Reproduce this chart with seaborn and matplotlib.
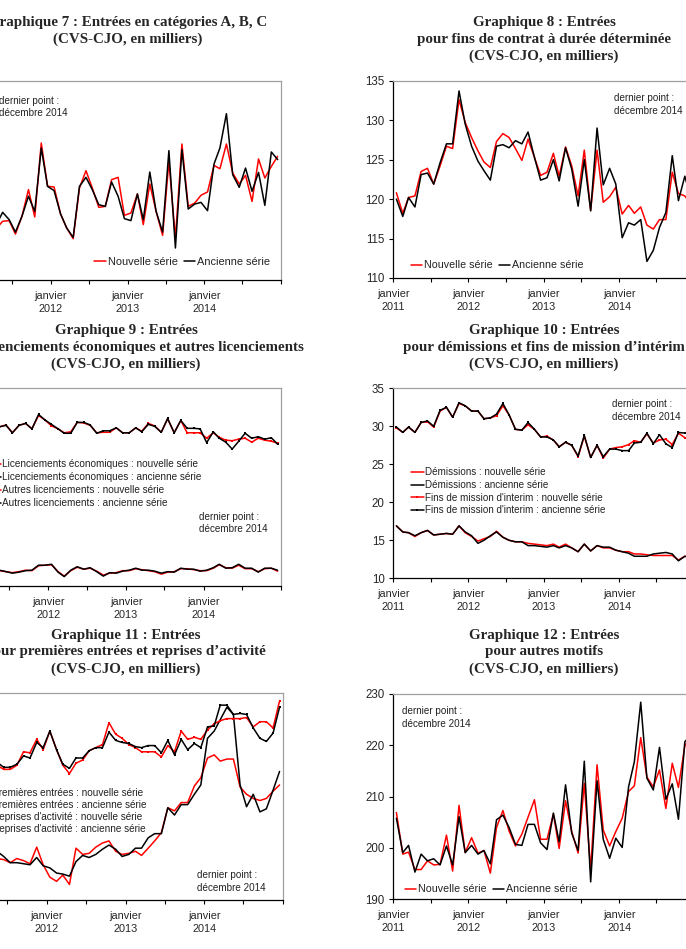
import pandas as pd
import matplotlib.pyplot as plt
import matplotlib.dates as mdates
import numpy as np
import seaborn as sns

# page size in pixels (figure drawn at 100 dpi)
W, H = 686, 949

# months jan 2011 - dec 2014, points drawn mid-month (between tick marks)
months = pd.date_range("2011-01-01", periods=48, freq="MS")
mid_month = months + pd.Timedelta(days=15)

# Graphique 7 : categories A, B, C
abc_new = [485, 478, 474, 471.0, 475.4, 475.8, 467.7, 478.4, 494.5, 478.0,
           522.6, 496.5, 496.1, 479.8, 471.4, 464.9, 495.5, 505.9, 495.5, 483.8,
           484.4, 500.5, 501.9, 479.0, 480.4, 491.9, 473.4, 497.9, 481.4, 466.9,
           511.6, 465.3, 522.0, 484.4, 486.4, 491.1, 493.1, 509.1, 507.1, 522.0,
           504.5, 497.9, 503.1, 487.4, 513.0, 501.5, 508.5, 514.6]
abc_old = [484, 477, 476, 473.4, 480.8, 476.4, 468.9, 478.4, 490.5, 481.4,
           519.6, 496.5, 493.9, 479.8, 471.4, 465.7, 496.5, 501.9, 494.5, 485.4,
           484.4, 499.1, 490.5, 477.0, 475.8, 491.9, 476.4, 505.1, 481.4, 468.9,
           518.0, 459.3, 518.6, 482.8, 485.8, 486.8, 481.8, 510.0, 519.6, 540.3,
           503.5, 495.9, 507.5, 493.5, 504.9, 485.0, 517.2, 512.6]

# Graphique 8 : fins de CDD
cdd_new = [120.8, 118.2, 120.2, 120.4, 123.5, 123.9, 121.9, 124.2, 126.7, 126.4,
           132.6, 129.7, 127.8, 126.1, 124.7, 124.0, 127.3, 128.3, 127.8, 126.4,
           124.9, 127.6, 125.3, 123.0, 123.4, 125.8, 122.9, 126.6, 124.2, 120.4,
           126.2, 118.6, 126.2, 119.6, 120.3, 121.5, 118.1, 119.2, 118.2, 119.0,
           116.7, 116.2, 117.4, 117.4, 123.4, 120.7, 120.4, 119.3]
cdd_old = [120.0, 117.8, 120.2, 119.0, 123.1, 123.3, 121.9, 124.6, 127.0, 127.0,
           133.7, 129.5, 126.7, 124.8, 123.6, 122.4, 126.7, 126.9, 126.5, 127.4,
           127.0, 128.5, 125.3, 122.4, 122.7, 125.0, 122.3, 126.5, 123.8, 119.1,
           125.0, 118.5, 129.0, 121.8, 123.9, 121.9, 115.1, 117.0, 116.7, 117.4,
           112.1, 113.5, 116.4, 118.3, 125.5, 119.8, 122.9, 120.0]

# Graphique 9 : licenciements
eco_new = [13.7, 13.5, 13.3, 13.2, 13.1, 12.9, 12.7, 12.9, 13.2, 13.1,
           14.1, 14.2, 14.3, 12.9, 12.0, 13.1, 13.8, 13.4, 13.6, 13.0,
           12.2, 12.6, 12.7, 13.1, 13.1, 13.5, 13.3, 13.1, 12.9, 12.4,
           12.8, 12.9, 13.5, 13.5, 13.3, 13.1, 13.1, 13.6, 14.3, 13.7,
           13.6, 14.2, 13.5, 13.5, 12.9, 13.5, 13.6, 13.0]
eco_old = [13.8, 13.5, 13.4, 13.3, 13.2, 12.9, 12.6, 12.8, 13.1, 13.2,
           14.2, 14.2, 14.4, 12.8, 11.9, 13.2, 13.9, 13.4, 13.7, 12.9,
           12.0, 12.7, 12.6, 13.0, 13.2, 13.6, 13.2, 13.2, 13.0, 12.6,
           12.9, 12.8, 13.6, 13.4, 13.4, 13.0, 13.2, 13.7, 14.4, 13.6,
           13.7, 14.4, 13.6, 13.6, 12.8, 13.6, 13.6, 13.2]
autres_new = [41.4, 42.2, 41.9, 42.5, 42.2, 42.6, 41.0, 42.5, 42.9, 41.8,
              44.5, 43.6, 42.4, 41.8, 41.0, 41.2, 43.1, 43.0, 42.5, 41.0,
              41.1, 41.1, 42.0, 41.0, 41.0, 42.0, 41.3, 42.9, 42.4, 41.1,
              43.8, 41.0, 43.5, 41.0, 41.0, 41.0, 39.9, 41.0, 40.1, 39.5,
              39.4, 39.7, 39.9, 39.1, 39.9, 39.5, 39.3, 38.9]
autres_old = [41.5, 42.3, 41.8, 42.6, 42.2, 42.5, 41.0, 42.5, 42.9, 41.8,
              44.7, 43.6, 42.7, 41.8, 40.9, 40.9, 43.1, 43.1, 42.6, 40.9,
              41.4, 41.4, 42.0, 41.0, 41.0, 42.0, 41.2, 42.7, 42.3, 41.1,
              43.9, 41.0, 43.5, 41.9, 41.9, 41.8, 39.0, 41.2, 39.9, 39.1,
              37.7, 39.3, 40.9, 39.9, 40.2, 39.7, 40.0, 38.7]

# Graphique 10 : demissions et fins de mission d'interim
dem_new = [16.9, 16.1, 16.0, 15.5, 16.0, 16.3, 15.7, 15.8, 15.9, 15.8,
           16.9, 16.0, 15.5, 14.9, 15.2, 15.5, 16.2, 15.4, 15.0, 14.8,
           14.8, 14.6, 14.5, 14.4, 14.3, 14.5, 14.1, 14.5, 14.0, 13.5,
           14.5, 13.6, 14.3, 14.0, 14.0, 13.7, 13.5, 13.5, 13.2, 13.2,
           13.1, 13.0, 13.0, 13.0, 13.0, 12.4, 12.9, 12.7]
dem_old = [16.9, 16.1, 16.0, 15.6, 16.0, 16.3, 15.7, 15.8, 15.9, 15.8,
           16.9, 16.1, 15.6, 14.6, 15.0, 15.6, 16.1, 15.4, 15.0, 14.8,
           14.8, 14.3, 14.3, 14.2, 14.1, 14.3, 14.0, 14.3, 14.0, 13.5,
           14.5, 13.6, 14.3, 14.1, 14.1, 13.7, 13.5, 13.3, 12.9, 12.9,
           12.9, 13.2, 13.3, 13.4, 13.2, 12.3, 12.9, 12.7]
fins_new = [29.8, 29.2, 29.9, 29.2, 30.5, 30.6, 29.9, 32.0, 32.5, 31.2,
            33.0, 32.7, 32.0, 32.0, 31.0, 31.1, 31.4, 32.7, 31.5, 29.6,
            29.5, 30.2, 29.6, 28.6, 28.7, 28.2, 27.3, 27.9, 27.5, 26.0,
            28.7, 25.9, 27.5, 25.8, 27.0, 27.2, 27.3, 27.6, 28.1, 27.9,
            29.0, 27.8, 28.2, 28.3, 27.6, 29.1, 28.5, 28.3]
fins_old = [29.9, 29.2, 29.9, 29.2, 30.5, 30.7, 30.0, 32.1, 32.5, 31.2,
            33.1, 32.7, 32.0, 32.0, 31.0, 31.1, 31.6, 33.0, 31.5, 29.6,
            29.5, 30.5, 29.6, 28.6, 28.6, 28.2, 27.3, 27.9, 27.5, 26.1,
            28.8, 25.9, 27.5, 26.0, 27.0, 27.0, 26.8, 26.8, 27.8, 27.9,
            29.1, 27.7, 28.9, 27.7, 27.2, 29.2, 29.1, 29.3]

# Graphique 11 : premieres entrees et reprises d'activite
prem_new = [20.5, 19.8, 19.6, 19.2, 19.0, 18.9, 18.6, 19.0, 18.8, 18.5,
            20.1, 18.4, 17.2, 16.8, 17.4, 16.5, 20.0, 19.4, 19.5, 20.1,
            20.5, 20.7, 19.7, 19.4, 19.5, 19.7, 19.3, 20.0, 20.7, 21.5,
            23.9, 23.6, 24.4, 24.4, 26.0, 26.8, 28.7, 29.0, 28.4, 28.6,
            28.6, 25.9, 25.2, 24.8, 24.6, 24.8, 25.5, 26.1]
prem_old = [20.6, 20.2, 20.0, 20.3, 19.7, 19.2, 18.6, 18.6, 18.5, 18.4,
            19.1, 18.3, 18.1, 17.6, 17.5, 17.3, 18.7, 19.3, 19.1, 19.4,
            19.9, 20.3, 19.9, 19.2, 19.4, 20.0, 20.0, 21.0, 21.4, 21.4,
            23.9, 23.2, 24.2, 24.2, 25.2, 26.1, 30.6, 31.3, 32.4, 33.6,
            32.9, 26.1, 24.0, 25.2, 23.5, 23.8, 25.6, 27.4]
rep_new = [27.8, 28.4, 28.0, 28.1, 28.0, 27.6, 27.6, 28.0, 29.3, 29.2,
           30.5, 29.5, 31.3, 29.5, 28.0, 27.2, 28.2, 28.5, 29.4, 29.7,
           30.0, 32.1, 31.0, 30.6, 30.0, 29.7, 29.3, 29.3, 29.3, 28.8,
           29.9, 29.3, 31.3, 30.5, 30.7, 30.5, 31.4, 32.0, 32.3, 32.5,
           32.5, 32.5, 32.6, 31.7, 32.2, 32.2, 31.6, 34.2]
rep_old = [28.0, 28.6, 28.2, 28.5, 28.3, 27.8, 27.8, 28.1, 28.9, 28.7,
           30.2, 29.7, 31.3, 29.5, 28.1, 27.7, 28.7, 28.7, 29.4, 29.7,
           29.7, 31.2, 30.4, 30.2, 30.1, 29.8, 29.7, 29.9, 29.9, 29.2,
           30.4, 29.0, 30.5, 29.5, 30.1, 29.7, 31.7, 31.8, 33.8, 33.8,
           32.9, 33.0, 32.9, 31.6, 30.6, 30.3, 31.1, 33.6]

# Graphique 12 : autres motifs
autmot_new = [206.9, 198.8, 199.2, 195.8, 195.8, 197.5, 196.7, 196.8, 202.5, 195.5,
              208.3, 199.1, 202.0, 199.0, 199.5, 195.1, 204.0, 207.3, 203.3, 200.4,
              202.7, 206.0, 209.4, 201.7, 201.7, 206.6, 199.9, 209.2, 203.2, 199.0,
              212.6, 195.7, 216.2, 203.5, 200.4, 203.2, 205.8, 211.0, 212.1, 221.5,
              213.8, 211.9, 215.2, 207.7, 216.5, 211.8, 219.9, 222.0]
autmot_old = [205.8, 199.1, 200.5, 195.3, 198.8, 197.5, 197.9, 196.7, 200.4, 196.7,
              206.1, 199.1, 200.5, 198.8, 199.5, 196.9, 205.5, 206.4, 204.0, 200.7,
              200.5, 204.6, 204.6, 201.0, 199.7, 206.8, 201.2, 212.3, 202.9, 199.5,
              216.9, 193.4, 213.1, 201.7, 198.0, 201.9, 200.1, 211.9, 216.8, 228.4,
              213.6, 211.3, 219.6, 209.5, 212.5, 205.6, 220.7, 222.0]

RED = "#ff0000"
BLACK = "#000000"
TXT = "#222222"

sns.set_theme(style="white")
plt.rcParams["font.family"] = ["Liberation Sans", "DejaVu Sans"]

fig = plt.figure(figsize=(W / 100, H / 100), dpi=100)
fig.patch.set_facecolor("white")


def px(x, y):
    # pixel position (from top left) -> figure fraction
    return x / W, 1 - y / H


def px_axes(x0, x1, y0, y1):
    return fig.add_axes([x0 / W, 1 - y1 / H, (x1 - x0) / W, (y1 - y0) / H])


def title(xc, y_first, lines):
    for k, line in enumerate(lines):
        fig.text(*px(xc, y_first + k * 17), line, ha="center", va="center",
                 family=["Liberation Serif", "DejaVu Serif"], weight="bold",
                 fontsize=10.8)


def note(x, y):
    fig.text(*px(x, y), "dernier point :\ndécembre 2014", ha="left",
             va="center", fontsize=7.1, linespacing=1.3, color=TXT)


def line(ax, values, color, label, marked=False):
    kw = dict(marker="s", markersize=2.1, markeredgewidth=0) if marked else {}
    sns.lineplot(x=mid_month, y=values, ax=ax, color=color, linewidth=1.1,
                 label=label, errorbar=None, **kw)


def style_axes(ax, ylim, yticks=None, cut_left=False):
    ax.set_xlim(mdates.date2num(pd.Timestamp("2011-01-01")),
                mdates.date2num(pd.Timestamp("2015-01-01")))
    ax.set_ylim(*ylim)
    majors = pd.date_range("2011-01-01", "2014-01-01", freq="YS")
    minors = list(pd.date_range("2011-07-01", "2014-07-01", freq="12MS")) + [pd.Timestamp("2015-01-01")]
    if cut_left:
        # the 2011 label and the y labels of the left column lie off the page
        majors = majors[1:]
        minors = [pd.Timestamp("2011-01-01")] + minors
    ax.set_xticks(mdates.date2num(majors))
    ax.set_xticklabels([f"janvier\n{d.year}" for d in majors], linespacing=1.3)
    ax.set_xticks(mdates.date2num(minors), minor=True)
    ax.tick_params(axis="x", which="both", direction="out", length=3, width=0.8,
                   color="black", pad=5, labelsize=7.8, bottom=True)
    if yticks is not None:
        ax.set_yticks(yticks)
    ax.tick_params(axis="y", direction="out", length=3, width=0.8, color="black",
                   pad=3.3, labelsize=8.3, left=True)
    if cut_left:
        ax.set_yticklabels([])
    ax.set_xlabel("")
    ax.set_ylabel("")
    for side in ["top", "right"]:
        ax.spines[side].set_color("#a0a0a0")
        ax.spines[side].set_linewidth(0.9)
    for side in ["left", "bottom"]:
        ax.spines[side].set_color("black")
        ax.spines[side].set_linewidth(0.9)
    ax.set_facecolor("white")


def legend(ax, x, y, ncol=1, hl=1.05, cs=0.55, fs=7.7, ls=0.1):
    handles, labels = ax.get_legend_handles_labels()
    ax.legend(handles, labels, loc="center left", bbox_to_anchor=px(x, y),
              bbox_transform=fig.transFigure, ncol=ncol, frameon=False,
              fontsize=fs, handlelength=hl, handletextpad=0.2,
              columnspacing=cs, borderpad=0, borderaxespad=0, labelspacing=ls,
              labelcolor=TXT)


# Graphique 7
ax7 = px_axes(-25.7, 281, 81, 280)
line(ax7, abc_new, RED, "Nouvelle série")
line(ax7, abc_old, BLACK, "Ancienne série")
style_axes(ax7, (440, 560), cut_left=True)
legend(ax7, 94, 262, ncol=2, fs=7.9)
note(-1, 107)
title(127.5, 22.7, ["Graphique 7 : Entrées en catégories A, B, C",
                    "(CVS-CJO, en milliers)"])

# Graphique 8
ax8 = px_axes(393.3, 694.3, 80.7, 278)
line(ax8, cdd_new, RED, "Nouvelle série")
line(ax8, cdd_old, BLACK, "Ancienne série")
style_axes(ax8, (110, 135), np.arange(110, 136, 5))
legend(ax8, 410.7, 265.3, ncol=2)
note(614, 104.5)
title(544, 22.7, ["Graphique 8 : Entrées",
                  "pour fins de contrat à durée déterminée",
                  "(CVS-CJO, en milliers)"])

# Graphique 9
ax9 = px_axes(-29.2, 281, 388.3, 586)
line(ax9, eco_new, RED, "Licenciements économiques : nouvelle série")
line(ax9, eco_old, BLACK, "Licenciements économiques : ancienne série")
line(ax9, autres_new, RED, "Autres licenciements : nouvelle série", marked=True)
line(ax9, autres_old, BLACK, "Autres licenciements : ancienne série", marked=True)
style_axes(ax9, (10, 50), cut_left=True)
legend(ax9, -11.5, 483.5, hl=1.2, fs=7.2, ls=0.3)
note(199, 523.3)
title(126, 330.7, ["Graphique 9 : Entrées",
                   "pour licenciements économiques et autres licenciements",
                   "(CVS-CJO, en milliers)"])

# Graphique 10
ax10 = px_axes(393.3, 694.3, 388.3, 578.3)
line(ax10, dem_new, RED, "Démissions : nouvelle série")
line(ax10, dem_old, BLACK, "Démissions : ancienne série")
line(ax10, fins_new, RED, "Fins de mission d'interim : nouvelle série", marked=True)
line(ax10, fins_old, BLACK, "Fins de mission d'interim : ancienne série", marked=True)
style_axes(ax10, (10, 35), np.arange(10, 36, 5))
legend(ax10, 410.7, 491.4, hl=1.3, fs=7.1, ls=0.27)
note(611.7, 410.5)
title(544, 330.7, ["Graphique 10 : Entrées",
                   "pour démissions et fins de mission d\u2019intérim",
                   "(CVS-CJO, en milliers)"])

# Graphique 11
ax11 = px_axes(-32.1, 283, 692.7, 900)
line(ax11, prem_new, RED, "Premières entrées : nouvelle série")
line(ax11, prem_old, BLACK, "Premières entrées : ancienne série")
line(ax11, rep_new, RED, "Reprises d'activité : nouvelle série", marked=True)
line(ax11, rep_old, BLACK, "Reprises d'activité : ancienne série", marked=True)
style_axes(ax11, (15, 35), cut_left=True)
legend(ax11, -21.5, 811.3, hl=1.2, fs=7.2, ls=0.2)
note(197.3, 881.7)
title(125.5, 635, ["Graphique 11 : Entrées",
                   "pour premières entrées et reprises d\u2019activité",
                   "(CVS-CJO, en milliers)"])

# Graphique 12
ax12 = px_axes(393.3, 694.3, 694, 899.3)
line(ax12, autmot_new, RED, "Nouvelle série")
line(ax12, autmot_old, BLACK, "Ancienne série")
style_axes(ax12, (190, 230), np.arange(190, 231, 10))
legend(ax12, 405, 889.3, ncol=2)
note(402.3, 717.5)
title(544, 635, ["Graphique 12 : Entrées",
                 "pour autres motifs",
                 "(CVS-CJO, en milliers)"])

fig.savefig("out.png", dpi=100)
